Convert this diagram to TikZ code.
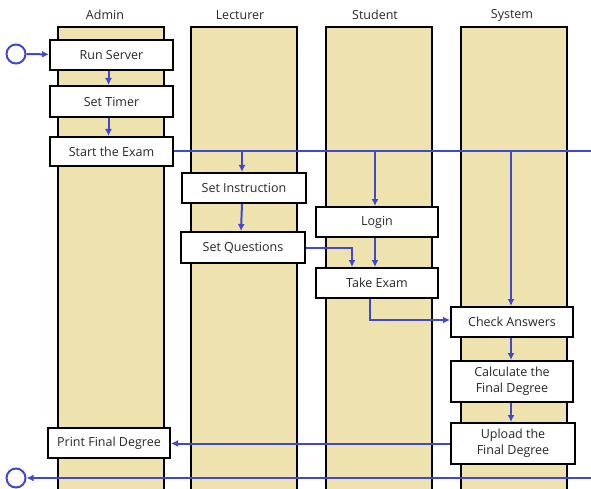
\documentclass[tikz,border=0pt]{standalone}
\usepackage{fontspec}
\setmainfont{Open Sans}
\usetikzlibrary{arrows.meta,positioning,calc}
\definecolor{laneyellow}{RGB}{238,226,174}
\definecolor{flowblue}{RGB}{66,72,206}
\definecolor{textgray}{RGB}{40,40,40}

\tikzset{
    lane/.style={draw, line width=1.8pt, fill=laneyellow, minimum width=106, minimum height=466, inner sep=0pt, anchor=north},
    actbox/.style={draw, line width=2pt, fill=white, minimum width=123, minimum height=30, inner sep=1pt, align=center, text=textgray, font=\fontsize{12.5}{16}\selectfont},
    flow/.style={draw=flowblue, line width=2pt, -{Latex[length=7pt,width=7pt]}},
    flowline/.style={draw=flowblue, line width=2pt},
    endpoint/.style={circle, draw=flowblue, line width=2pt, minimum size=19, inner sep=0pt, fill=white}
}

\begin{document}
\begin{tikzpicture}[x=1pt, y=-1pt]
    \useasboundingbox (0,0) rectangle (591,489);

    % Swim lanes
    \foreach \id/\xc/\xl/\name in {
        admin/111/105/Admin,
        lect/244/240/Lecturer,
        stud/379/375/Student,
        sys/514/512/System
    } {
        \node[lane] (lane\id) at (\xc,26) {};
        \node[text=textgray, font=\fontsize{12.5}{14}\selectfont] (title\id) at (\xl,15) {\name};
    }

    % Activities
    \node[actbox] (run) at (111.5,55) {Run Server};
    \node[actbox, minimum height=31] (timer) at (111.5,101.5) {Set Timer};
    \node[actbox, minimum height=29] (start) at (111.5,151.5) {Start the Exam};
    \node[actbox, minimum width=124] (instr) at (244,188) {Set Instruction};
    \node[actbox, minimum width=124, minimum height=31] (quest) at (243,247.5) {Set Questions};
    \node[actbox, minimum width=122] (login) at (377,222) {Login};
    \node[actbox, minimum width=122] (take) at (377,283) {Take Exam};
    \node[actbox, minimum width=122] (check) at (512,322) {Check Answers};
    \node[actbox, minimum width=122, minimum height=41] (calc) at (512,381.5) {Calculate the\\Final Degree};
    \node[actbox, minimum width=124, minimum height=41] (upload) at (513,443.5) {Upload the\\Final Degree};
    \node[actbox, minimum width=122] (print) at (109,443) {Print Final Degree};

    % Start and end points
    \node[endpoint] (init) at (16,54) {};
    \node[endpoint] (final) at (16,478) {};
    \coordinate (exitr) at (591,151.5);
    \coordinate (backr) at (591,478);

    % Admin flow
    \draw[flow] (init) -- (run);
    \draw[flow] ([xshift=-3]run.south) -- ([xshift=-3]timer.north);
    \draw[flow] ([xshift=-3]timer.south) -- ([xshift=-3]start.north);

    % Broadcast line from Start the Exam
    \draw[flowline] (start.east) -- (exitr);
    \draw[flow] ([xshift=-2]instr.north |- start.east) -- ([xshift=-2]instr.north);
    \draw[flow] ([xshift=-2]login.north |- start.east) -- ([xshift=-2]login.north);
    \draw[flow] ([xshift=-1]check.north |- start.east) -- ([xshift=-1]check.north);

    % Lecturer and student
    \draw[flow] ([xshift=-2]instr.south) -- ([xshift=-2]quest.north);
    \draw[flow] (quest.east) -| ([xshift=-25]take.north);
    \draw[flow] ([xshift=-2]login.south) -- ([xshift=-2]take.north);
    \draw[flow] ([xshift=-7]take.south) |- ([yshift=2]check.west);

    % System
    \draw[flow] ([xshift=-1]check.south) -- ([xshift=-1]calc.north);
    \draw[flow] ([xshift=-1]calc.south) -- ([xshift=-2]upload.north);
    \draw[flow] (upload.west) -- (upload.west -| print.east);
    \draw[flow] (backr) -- (final);
\end{tikzpicture}
\end{document}
